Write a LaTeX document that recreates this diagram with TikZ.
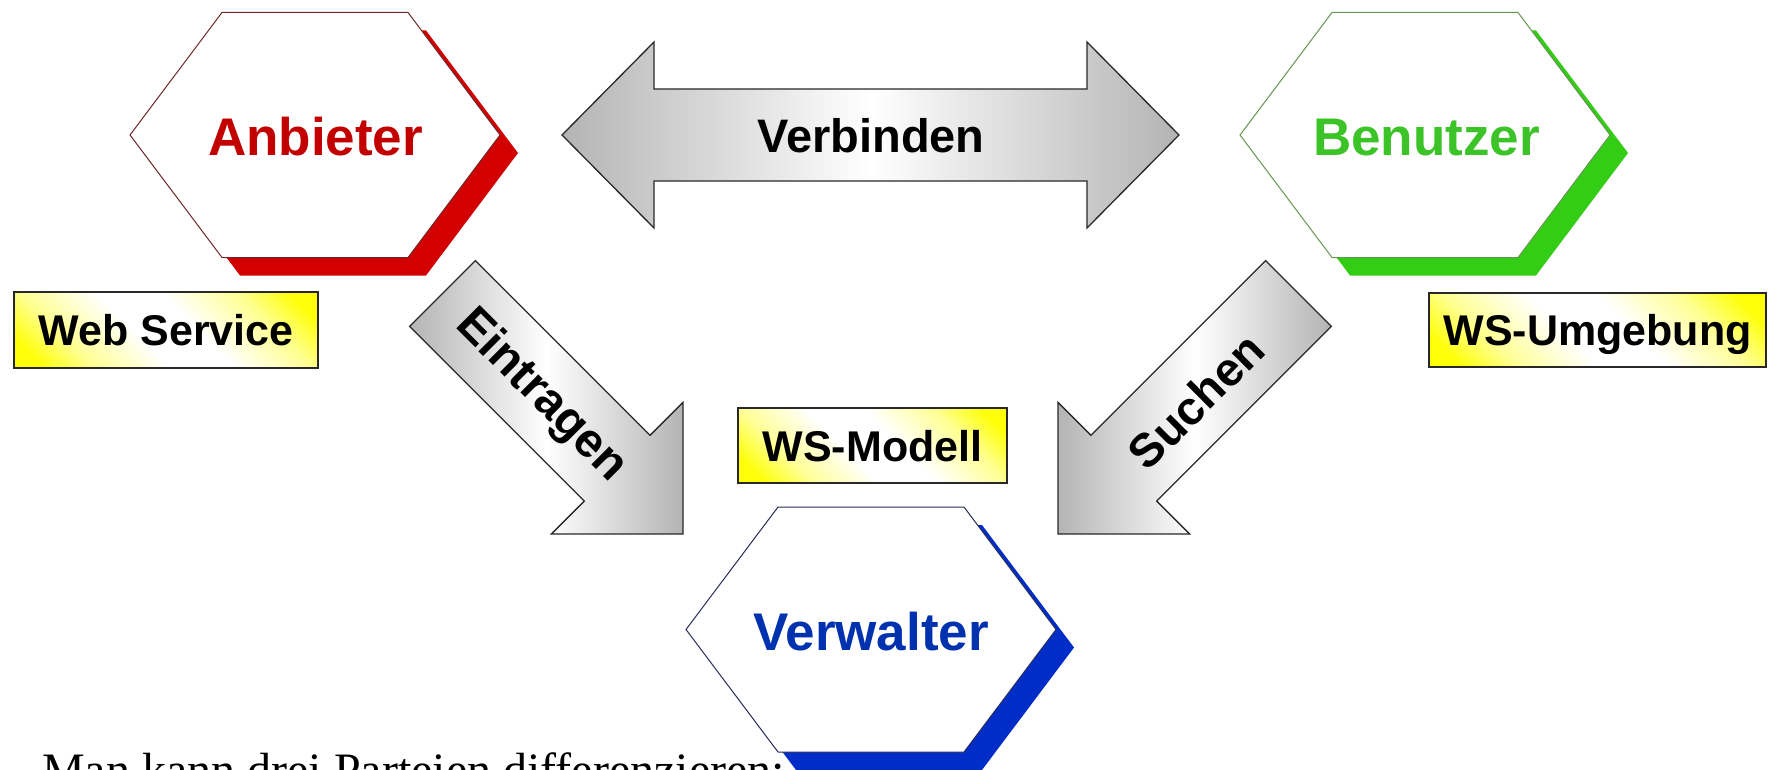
\documentclass[tikz,border=0pt]{standalone}
\usepackage{fontspec}
\setmainfont{Liberation Sans}
\newfontfamily\serifont{Liberation Serif}
\definecolor{redsh}{RGB}{210,0,0}
\definecolor{redtxt}{RGB}{195,0,0}
\definecolor{redline}{RGB}{110,40,40}
\definecolor{greensh}{RGB}{50,205,20}
\definecolor{greentxt}{RGB}{60,195,40}
\definecolor{greenline}{RGB}{100,150,80}
\definecolor{bluesh}{RGB}{0,45,200}
\definecolor{bluetxt}{RGB}{0,50,175}
\definecolor{blueline}{RGB}{40,45,90}
\definecolor{arrowgray}{RGB}{180,180,180}
\definecolor{arrowline}{RGB}{40,40,40}
\definecolor{boxline}{RGB}{40,40,40}
\definecolor{tagyellow}{RGB}{255,255,10}
\definecolor{tagpale}{RGB}{255,255,150}
\pgfdeclareverticalshading{tagshade}{100bp}{color(0bp)=(tagyellow); color(20bp)=(tagyellow); color(30bp)=(tagpale); color(44bp)=(white); color(56bp)=(white); color(70bp)=(tagpale); color(80bp)=(tagyellow); color(100bp)=(tagyellow)}
\newcommand{\hexagonat}[4]{%
\begin{scope}[shift={(#1,#2)}]
\fill[#3] (-167,18) -- (-75,-104.5) -- (111,-104.5) -- (203,18) -- (111,140.5) -- (-75,140.5) -- cycle;
\filldraw[fill=white, draw=#4, line width=1pt] (-185,0) -- (-93,-122.5) -- (93,-122.5) -- (185,0) -- (93,122.5) -- (-93,122.5) -- cycle;
\end{scope}}
\tikzset{
 hexlabel/.style={anchor=base, inner sep=0pt, font=\fontsize{53}{60}\selectfont\bfseries},
 arrowlabel/.style={inner sep=0pt, font=\fontsize{47}{54}\selectfont\bfseries, text=black},
 blockarrow/.style={draw=arrowline, line width=1.3pt, line join=miter, left color=arrowgray, right color=arrowgray, middle color=white},
 tagbox/.style={draw=boxline, line width=2pt, shade, shading=tagshade, shading angle=-45, inner sep=0pt, text height=31pt, text depth=0pt, font=\fontsize{43}{50}\selectfont\bfseries},
}
\begin{document}
\begin{tikzpicture}[x=1pt,y=-1pt]
\useasboundingbox (0,0) rectangle (1780,770);
\clip (0,0) rectangle (1780,770);
% caption (cut at the bottom edge, lies beneath the hexagon)
\node[anchor=base west, inner sep=0pt, font=\serifont\fontsize{48}{56}\selectfont] (caption) at (42,786) {Man kann drei Parteien differenzieren:};
% hexagons
\hexagonat{315}{135}{redsh}{redline}
\hexagonat{1425}{135}{greensh}{greenline}
\hexagonat{871}{629.5}{bluesh}{blueline}
\node[hexlabel, text=redtxt] (anbieter) at (315.5,156) {Anbieter};
\node[hexlabel, text=greentxt] (benutzer) at (1426.5,156) {Benutzer};
\node[hexlabel, text=bluetxt] (verwalter) at (871,650) {Verwalter};
% Verbinden double arrow
\path[blockarrow] (562,135) -- (654,42) -- (654,89) -- (1087,89) -- (1087,42) -- (1179,135)
  -- (1087,228) -- (1087,181) -- (654,181) -- (654,228) -- cycle;
\node[arrowlabel, anchor=base] (verbinden) at (871,153) {Verbinden};
% Eintragen arrow
\path[blockarrow] (475.4,260.6) -- (650.1,435.3) -- (683,402.4) -- (683,534) -- (551.4,534)
  -- (584.3,501.1) -- (409.6,326.4) -- cycle;
\node[arrowlabel, rotate=-45, font=\fontsize{48}{54}\selectfont\bfseries] (eintragen) at (541,396) {Eintragen};
% Suchen arrow
\path[blockarrow] (1265.6,260.6) -- (1090.9,435.3) -- (1058,402.4) -- (1058,534) -- (1189.6,534)
  -- (1156.7,501.1) -- (1331.4,326.4) -- cycle;
\node[arrowlabel, rotate=45] (suchen) at (1196,401) {Suchen};
% tags
\node[tagbox, minimum width=304pt, minimum height=76pt] (webservice) at (166,330) {Web Service};
\node[tagbox, minimum width=269pt, minimum height=75pt] (wsmodell) at (872.5,445.5) {WS-Modell};
\node[tagbox, minimum width=337pt, minimum height=74pt] (wsumgebung) at (1597.5,330) {WS-Umgebung};
\end{tikzpicture}
\end{document}
